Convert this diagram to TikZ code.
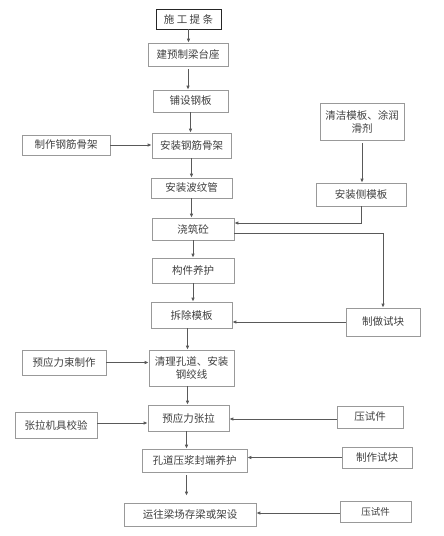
\documentclass[tikz,border=0pt]{standalone}
\usepackage{fontspec}
\newfontfamily\cjk{Noto Sans CJK SC}
\usetikzlibrary{arrows.meta}
\begin{document}
\begin{tikzpicture}[x=1pt,y=-1pt,
  box/.style={draw=black!40,line width=0.6pt,fill=white,inner sep=1pt,align=center,
    font=\cjk\fontsize{10.5}{13}\selectfont,text=black!75},
  arr/.style={draw=black!65,line width=0.8pt,-{Latex[length=4pt,width=3.5pt]}},
  ln/.style={draw=black!65,line width=0.8pt}]
\useasboundingbox (0,0) rectangle (444,536);
% main column
\node[box,draw=black!85,minimum width=65pt,minimum height=20pt] (b1) at (188.5,19) {施 工 提 条};
\node[box,minimum width=80pt,minimum height=23pt] (b2) at (188,54.5) {建预制梁台座};
\node[box,minimum width=75pt,minimum height=22pt] (b3) at (190.5,101) {铺设钢板};
\node[box,minimum width=79pt,minimum height=25pt] (b4) at (191.5,145.5) {安装钢筋骨架};
\node[box,minimum width=81pt,minimum height=20pt] (b5) at (191.5,188) {安装波纹管};
\node[box,minimum width=82pt,minimum height=22pt] (b6) at (193,229) {浇筑砼};
\node[box,minimum width=82pt,minimum height=25pt] (b7) at (193,270.5) {构件养护};
\node[box,minimum width=81pt,minimum height=26pt] (b8) at (191.5,315) {拆除模板};
\node[box,minimum width=85pt,minimum height=36pt] (b9) at (191.5,368) {清理孔道、安装\\钢绞线};
\node[box,minimum width=81pt,minimum height=26pt] (b10) at (188.5,418) {预应力张拉};
\node[box,minimum width=105pt,minimum height=23pt] (b11) at (194.5,460.5) {孔道压浆封端养护};
\node[box,minimum width=132pt,minimum height=23pt] (b12) at (190,514.5) {运往梁场存梁或架设};
% left column
\node[box,minimum width=88pt,minimum height=20pt] (s1) at (66,145) {制作钢筋骨架};
\node[box,minimum width=84pt,minimum height=25pt] (s2) at (64,362.5) {预应力束制作};
\node[box,minimum width=82pt,minimum height=26pt] (s3) at (56,425) {张拉机具校验};
% right column
\node[box,minimum width=84pt,minimum height=37pt] (r1) at (362,121.5) {清洁模板、涂润\\滑剂};
\node[box,minimum width=90pt,minimum height=23pt] (r2) at (361,194.5) {安装侧模板};
\node[box,minimum width=74pt,minimum height=28pt] (r3) at (383,322) {制做试块};
\node[box,minimum width=66pt,minimum height=22pt] (r4) at (370,417) {压试件};
\node[box,minimum width=70pt,minimum height=21pt] (r5) at (377,457.5) {制作试块};
\node[box,minimum width=71pt,minimum height=21pt,font=\cjk\fontsize{9.5}{12}\selectfont] (r6) at (375.5,511.5) {压试件};
% main flow
\draw[arr] (b1.south) -- (b1.south |- b2.north);
\draw[arr,shorten <=3pt] (b2.south) -- (b2.south |- b3.north);
\draw[arr] (b3.south) -- (b3.south |- b4.north);
\draw[arr] (b4.south) -- (b4.south |- b5.north);
\draw[arr] (b5.south) -- (b5.south |- b6.north);
\draw[arr] (b6.south) -- (b6.south |- b7.north);
\draw[arr] (b7.south) -- (b7.south |- b8.north);
\draw[arr] ([xshift=-4pt]b8.south) -- ([xshift=-4pt]b8.south |- b9.north);
\draw[arr] ([xshift=-4pt]b9.south) -- ([xshift=-4pt]b9.south |- b10.north);
\draw[arr] ([xshift=-2pt]b10.south) -- ([xshift=-2pt]b10.south |- b11.north);
\draw[arr,shorten <=3pt,shorten >=7pt] ([xshift=-8pt]b11.south) -- ([xshift=-8pt]b11.south |- b12.north);
% side flows
\draw[arr] (s1.east) -- (s1.east -| b4.west);
\draw[arr] (s2.east) -- (s2.east -| b9.west);
\draw[arr] ([yshift=2pt]s3.east) -- ([yshift=2pt]s3.east -| b10.west);
\draw[arr,shorten <=3pt] (r1.south) -- (r1.south |- r2.north);
\draw[arr] (r2.south) |- ([yshift=6pt]b6.east);
\draw[arr] ([yshift=-4pt]b6.east) -| (r3.north);
\draw[arr] (r3.west) -- (r3.west -| b8.east);
\draw[arr] ([yshift=-2pt]r4.west) -- ([yshift=-2pt]r4.west -| b10.east);
\draw[arr] (r5.west) -- (r5.west -| b11.east);
\draw[arr] ([yshift=-1.5pt]r6.west) -- ([yshift=-1.5pt]r6.west -| b12.east);
\end{tikzpicture}
\end{document}
